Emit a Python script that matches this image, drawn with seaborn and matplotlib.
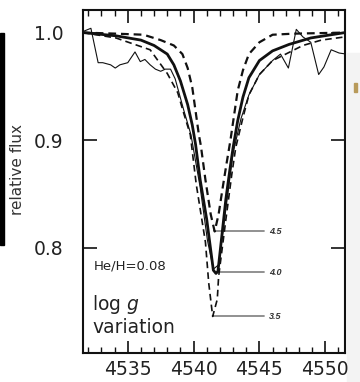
import matplotlib
matplotlib.use("Agg")
import matplotlib.pyplot as plt
from matplotlib.patches import Rectangle
from matplotlib.ticker import MultipleLocator
import seaborn as sns
import pandas as pd

# ---- data ----
wl_g45 = [4531.6, 4534.1, 4536.2, 4537.5, 4538.5, 4539.15, 4539.55, 4539.9, 4540.15,
          4540.4, 4540.55, 4540.9, 4541.3, 4541.6, 4541.9, 4542.2, 4542.5, 4542.8,
          4543.05, 4543.35, 4543.75, 4544.2, 4545.0, 4546.0, 4547.6, 4551.5]
fx_g45 = [1.000, 0.999, 0.998, 0.993, 0.988, 0.980, 0.967, 0.949, 0.927,
          0.905, 0.895, 0.863, 0.831, 0.815, 0.831, 0.855, 0.878, 0.900,
          0.921, 0.946, 0.965, 0.980, 0.991, 0.998, 0.999, 1.000]

wl_g40 = [4531.6, 4534.1, 4536.0, 4537.0, 4538.0, 4538.5, 4539.0, 4539.55, 4539.9,
          4540.15, 4540.5, 4541.0, 4541.5, 4541.7, 4541.85, 4542.2, 4542.45, 4542.75,
          4543.0, 4543.35, 4543.75, 4544.2, 4545.0, 4546.0, 4547.25, 4548.9, 4551.5]
fx_g40 = [1.000, 0.997, 0.993, 0.988, 0.980, 0.970, 0.955, 0.933, 0.914,
          0.896, 0.863, 0.826, 0.779, 0.776, 0.778, 0.817, 0.845, 0.872,
          0.893, 0.918, 0.940, 0.958, 0.974, 0.983, 0.989, 0.995, 1.000]

wl_g35 = [4531.6, 4534.1, 4536.7, 4538.0, 4538.8, 4539.25, 4539.75, 4540.2, 4540.9,
          4541.15, 4541.45, 4541.8, 4541.9, 4542.45, 4542.9, 4543.2, 4543.75, 4544.2,
          4545.0, 4546.0, 4547.0, 4548.3, 4549.7, 4551.5]
fx_g35 = [1.000, 0.995, 0.984, 0.962, 0.944, 0.925, 0.905, 0.859, 0.805,
          0.767, 0.736, 0.752, 0.773, 0.826, 0.868, 0.893, 0.921, 0.942,
          0.961, 0.974, 0.980, 0.988, 0.993, 0.996]

wl_obs = [4531.6, 4532.0, 4532.2, 4532.75, 4533.1, 4533.7, 4534.05, 4534.4, 4535.0,
          4535.55, 4535.95, 4536.3, 4536.7, 4537.1, 4537.5, 4537.85, 4538.25, 4538.6,
          4539.25, 4539.8, 4540.5, 4541.05, 4541.5, 4541.9, 4542.4, 4543.0, 4543.6,
          4544.2, 4545.0, 4546.0, 4546.6, 4547.2, 4547.8, 4548.3, 4548.9,
          4549.5, 4549.9, 4550.45, 4551.05, 4551.6]
fx_obs = [1.001, 1.003, 1.004, 0.972, 0.972, 0.970, 0.967, 0.970, 0.972,
          0.982, 0.973, 0.975, 0.970, 0.966, 0.964, 0.966, 0.966, 0.957,
          0.928, 0.905, 0.856, 0.807, 0.780, 0.784, 0.831, 0.888, 0.920,
          0.942, 0.961, 0.974, 0.980, 0.967, 1.003, 0.996, 0.991,
          0.961, 0.968, 0.984, 0.981, 0.980]

model_labels = ["4.5", "4.0", "3.5"]
model_min_wl = [4541.6, 4541.75, 4541.45]
model_min_fx = [0.815, 0.777, 0.736]
label_end_wl = 4545.35

x_ticks = [4535, 4540, 4545, 4550]
y_ticks = [0.8, 0.9, 1.0]

# ---- frames ----
df_obs = pd.DataFrame({"wl": wl_obs, "flux": fx_obs})
df_45 = pd.DataFrame({"wl": wl_g45, "flux": fx_g45})
df_40 = pd.DataFrame({"wl": wl_g40, "flux": fx_g40})
df_35 = pd.DataFrame({"wl": wl_g35, "flux": fx_g35})

sns.set_style("white")
plt.rcParams["font.family"] = ["DejaVu Sans"]

fig = plt.figure(figsize=(3.6, 3.82), dpi=100)
ax = fig.add_axes([83 / 360, 1 - 353 / 382, 262 / 360, 343 / 382])

ink = "#111111"
txt = "#222222"
sns.lineplot(data=df_obs, x="wl", y="flux", ax=ax, color=ink, lw=0.8, sort=False)
sns.lineplot(data=df_35, x="wl", y="flux", ax=ax, color=ink, lw=1.2, sort=False,
             linestyle=(0, (4, 2.5)))
sns.lineplot(data=df_40, x="wl", y="flux", ax=ax, color=ink, lw=2.0, sort=False)
sns.lineplot(data=df_45, x="wl", y="flux", ax=ax, color=ink, lw=1.6, sort=False,
             linestyle=(0, (3.5, 2.2)))

# label connectors
for lab, xm, ym in zip(model_labels, model_min_wl, model_min_fx):
    ax.plot([xm, label_end_wl], [ym, ym], color="#888888", lw=1.3, zorder=1)
    ax.text(label_end_wl + 0.4, ym, lab, fontsize=6.5, fontweight="bold",
            style="italic", color="#333333", va="center", ha="left",
            family="Liberation Sans")

ax.text(4532.4, 0.783, "He/H=0.08", fontsize=9.5, va="center", ha="left", color=txt)
ax.text(4532.3, 0.747, "log $\\mathit{g}$", fontsize=13.5, va="center", ha="left",
        color=txt)
ax.text(4532.3, 0.726, "variation", fontsize=13.5, va="center", ha="left", color=txt)

ax.set_xlim(4531.6, 4551.5)
ax.set_ylim(0.702, 1.021)
ax.set_xticks(x_ticks)
ax.set_xticklabels([str(t) for t in x_ticks])
ax.set_yticks(y_ticks)
ax.set_yticklabels([f"{t:.1f}" for t in y_ticks])
ax.xaxis.set_minor_locator(MultipleLocator(1))
ax.set_xlabel("")
ax.set_ylabel("relative flux", fontsize=11, color="#333333")
ax.yaxis.set_label_coords(-0.221, 0.534)

for s in ax.spines.values():
    s.set_visible(True)
    s.set_linewidth(1.5)
    s.set_color(ink)

ax.tick_params(axis="x", which="major", direction="in", length=9, width=1.2,
               top=True, bottom=True, labelsize=13.5, pad=5, colors=ink)
ax.tick_params(axis="x", which="minor", direction="in", length=4, width=1.0,
               top=True, bottom=True, colors=ink)
ax.tick_params(axis="y", which="major", direction="in", length=10, width=1.2,
               left=True, right=True, labelsize=13.5, pad=14, colors=ink)
for lbl in ax.get_xticklabels() + ax.get_yticklabels():
    lbl.set_color(txt)

# page artefacts around the cropped figure
fig.patches.append(Rectangle((0, 1 - 245 / 382), 4 / 360, 212 / 382,
                             transform=fig.transFigure, color="black"))
fig.patches.append(Rectangle((347 / 360, 0), 13 / 360, 1 - 53 / 382,
                             transform=fig.transFigure, color="#f3f3f3", zorder=-1))
fig.patches.append(Rectangle((354 / 360, 1 - 92 / 382), 3 / 360, 9 / 382,
                             transform=fig.transFigure, color="#b89a5a"))

fig.savefig("out.png", dpi=100)
